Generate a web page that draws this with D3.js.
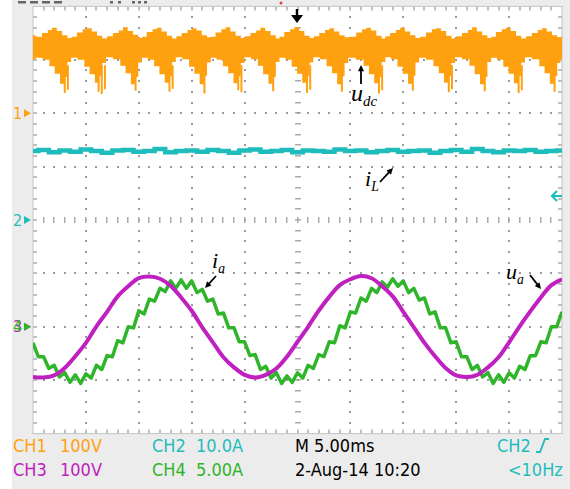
<!DOCTYPE html>
<html>
<head>
<meta charset="utf-8">
<script src="https://cdn.jsdelivr.net/npm/d3@7"></script>
<style>
body { margin: 0; background: #fff; }
svg { display: block; }
.scope { font-family: "Liberation Sans Narrow", "Arial Narrow", "DejaVu Sans Condensed", sans-serif; }
.lab { font-family: "Liberation Serif", "Times New Roman", serif; font-style: italic; fill: #000; }
</style>
</head>
<body>
<div id="chart"></div>
<script>
// udc band edges [ms, V]
var udcTop = [[0,146],[0.5,143],[1.2,150],[1.6,156],[2.0,160],[2.5,154],[3.0,146],[3.5,141],
  [3.8,143],[4.5,151],[4.9,157],[5.3,159],[5.8,153],[6.3,145],[6.8,140],
  [7.2,144],[7.9,150],[8.3,155],[8.7,161],[9.2,154],[9.7,147],[10.2,141],
  [10.4,143],[11.1,152],[11.5,157],[11.9,160],[12.4,153],[12.9,145],[13.4,140],
  [13.7,144],[14.4,150],[14.8,156],[15.2,159],[15.7,155],[16.2,146],[16.7,142],
  [16.9,143],[17.6,151],[18.0,157],[18.4,161],[18.9,153],[19.4,145],[19.9,141],
  [20.2,144],[20.9,150],[21.3,155],[21.7,160],[22.2,154],[22.7,146],[23.2,140],
  [23.4,143],[24.1,152],[24.5,157],[24.9,161],[25.4,154],[25.9,145],[26.4,141],
  [26.7,144],[27.4,150],[27.8,156],[28.2,159],[28.7,153],[29.2,146],[29.7,142],
  [30.2,143],[30.9,151],[31.3,157],[31.7,160],[32.2,155],[32.7,145],[33.2,140],
  [33.4,144],[34.1,150],[34.5,156],[34.9,160],[35.4,153],[35.9,146],[36.4,141],
  [36.8,143],[37.5,151],[37.9,157],[38.3,159],[38.8,154],[39.3,145],[39.8,140],
  [40.2,144],[40.9,150],[41.3,156],[41.7,161],[42.2,153],[42.7,146],[43.2,141],
  [43.4,143],[44.1,152],[44.5,157],[44.9,160],[45.4,154],[45.9,145],[46.4,140],
  [46.8,144],[47.5,150],[47.9,156],[48.3,159],[48.8,153],[49.3,146],[49.8,142],[50,143]];

var udcBottom = [[0,100],[0.5,104],[1.3,100],[1.8,88],[2.3,74],[2.8,55],[3.1,68],[3.4,96],[3.8,104],
  [4.6,100],[5.1,87],[5.6,73],[6.1,57],[6.4,70],[6.7,94],[7.1,105],
  [8.0,101],[8.5,89],[9.0,75],[9.5,54],[9.8,68],[10.1,95],[10.5,104],
  [11.2,100],[11.7,88],[12.2,73],[12.7,57],[13.0,69],[13.3,96],[13.7,105],
  [14.5,101],[15.0,87],[15.5,74],[16.0,54],[16.3,70],[16.6,95],[17.0,104],
  [17.7,100],[18.2,88],[18.7,75],[19.2,56],[19.5,69],[19.8,94],[20.2,105],
  [21.0,101],[21.5,89],[22.0,73],[22.5,55],[22.8,68],[23.1,96],[23.5,104],
  [24.2,100],[24.7,87],[25.2,74],[25.7,57],[26.0,70],[26.3,95],[26.7,105],
  [27.5,101],[28.0,88],[28.5,75],[29.0,54],[29.3,69],[29.6,94],[30.0,104],
  [31.0,100],[31.5,89],[32.0,73],[32.5,56],[32.8,68],[33.1,96],[33.5,105],
  [34.2,101],[34.7,87],[35.2,74],[35.7,55],[36.0,70],[36.3,95],[36.7,104],
  [37.6,100],[38.1,88],[38.6,75],[39.1,57],[39.4,69],[39.7,94],[40.1,105],
  [41.0,101],[41.5,89],[42.0,73],[42.5,54],[42.8,68],[43.1,96],[43.5,104],
  [44.2,100],[44.7,87],[45.2,74],[45.7,56],[46.0,70],[46.3,95],[46.7,105],
  [47.6,101],[48.1,88],[48.6,75],[49.1,55],[49.4,69],[49.7,94],[50,100]];

// thin needles below the band [ms, V]
var udcSpikes = [[3.0,38],[3.3,44],[6.2,40],[6.5,36],[6.8,45],[9.7,42],[12.9,40],[13.2,46],
  [16.2,37],[19.4,43],[19.7,39],[22.7,41],[25.9,38],[26.2,44],[29.2,40],[32.7,37],
  [33.0,43],[35.9,42],[39.3,39],[39.6,45],[42.7,41],[45.9,38],[46.2,43],[49.3,40]];

// iL (A), one sample per ms
var iL = [12.9,13.1,12.7,13.0,12.8,13.2,12.9,12.6,13.0,13.1,12.8,12.9,13.3,12.7,12.9,13.0,12.8,
  13.1,12.9,12.6,13.0,13.2,12.8,12.9,13.1,12.7,13.0,12.9,12.8,13.2,12.9,13.0,12.7,12.9,13.1,
  12.8,12.9,13.0,12.6,12.9,13.1,12.8,13.3,12.9,12.7,13.0,12.9,13.1,12.8,12.9,13.0];

// ua (V), one sample per ms
var ua = [-94,-95,-91,-77,-55,-30,1,28,57,76,91,94,90,77,55,30,-1,-29,-57,-76,-90,-95,-90,
  -78,-56,-28,0,30,56,78,89,95,91,76,57,28,-1,-30,-55,-77,-91,-94,-90,-76,-57,-29,1,29,55,78,89];

// ia (A), one sample per 0.5 ms
var ia = [-1.5,-2.8,-2.8,-3.9,-3.6,-4.7,-4.3,-5.2,-4.5,-5.3,-4.4,-4.8,-3.6,-4.0,-2.7,-2.8,
  -1.3,-1.5,0.0,-0.1,1.5,1.2,2.6,2.4,3.6,3.3,4.3,3.6,4.4,3.6,4.3,3.2,3.5,2.4,2.6,1.2,1.3,-0.1,-0.1,-1.4,
  -1.4,-2.7,-2.6,-4.0,-3.7,-4.8,-4.3,-5.3,-4.6,-5.2,-4.3,-4.8,-3.6,-3.9,-2.6,-2.8,
  -1.4,-1.5,0.1,-0.1,1.4,1.3,2.7,2.4,3.6,3.2,4.2,3.7,4.5,3.8,4.3,3.2,3.6,2.5,2.7,1.2,1.4,-0.1,-0.1,-1.5,
  -1.4,-2.8,-2.8,-4.0,-3.6,-4.7,-4.3,-5.3,-4.5,-5.2,-4.3,-4.8,-3.7,-4.0,-2.7,-2.7,-1.4,-1.5,0.0,0.0,1.4];

var channelNames = ["CH1", "CH2", "CH3", "CH4"];
var channelScales = ["100V", "10.0A", "100V", "5.00A"];
var channelPerDiv = [100, 10, 100, 5];
var channelGround = [2, 0, -2, -2];   // divisions from centre
var channelColors = ["#ffa00f", "#1fbcbc", "#c020c0", "#2fb52a"];
var timebase = "M 5.00ms";
var dateText = "2-Aug-14 10:20";
var trigText = "CH2";
var freqText = "<10Hz";

var width = 570, height = 489;
var svg = d3.select("#chart").append("svg")
  .attr("width", width).attr("height", height);

var x = d3.scaleLinear().domain([0, 50]).range([33, 562]);
var div = d3.scaleLinear().domain([-4, 4]).range([433.6, 6.4]);
function chY(i) {
  return function(v) { return div(channelGround[i] + v / channelPerDiv[i]); };
}

// background
svg.append("rect").attr("x", 12).attr("y", 0).attr("width", width - 12).attr("height", height).attr("fill", "#ececec");
svg.append("rect").attr("x", 33).attr("y", 6.4).attr("width", 529).attr("height", 427.2).attr("fill", "#fff");

// top-left status marks
[[18,8],[30,8],[42,8],[54,8],[110,3],[118,3],[132,3],[138,3],[144,3]].forEach(function(d) {
  svg.append("rect").attr("x", d[0]).attr("y", 1).attr("width", d[1]).attr("height", 2.5).attr("fill", "#666");
});
svg.append("circle").attr("cx", 281).attr("cy", 3).attr("r", 1.5).attr("fill", "#e04040");

// graticule
var grid = svg.append("g");
var xDiv = (562 - 33) / 10, yDiv = (433.6 - 6.4) / 8;
var dotCol = "#999";
for (var k = 1; k < 10; k++) {
  var gx = Math.round(33 + k * xDiv);
  for (var j = 1; j < 40; j++) {
    var gy = Math.round(6.4 + j * yDiv / 5);
    if (k == 5) grid.append("rect").attr("x", gx - 3).attr("y", gy - 1).attr("width", 6).attr("height", 1.5).attr("fill", "#aaa");
    else grid.append("rect").attr("x", gx - 1).attr("y", gy - 1).attr("width", 2).attr("height", 2).attr("fill", dotCol);
  }
}
for (var j2 = 1; j2 < 8; j2++) {
  var hy = Math.round(6.4 + j2 * yDiv);
  for (var k2 = 1; k2 < 50; k2++) {
    var hx = Math.round(33 + k2 * xDiv / 5);
    if (j2 == 4) grid.append("rect").attr("x", hx - 1).attr("y", hy - 3).attr("width", 1.5).attr("height", 6).attr("fill", "#aaa");
    else grid.append("rect").attr("x", hx - 1).attr("y", hy - 1).attr("width", 2).attr("height", 2).attr("fill", dotCol);
  }
}
// border ticks
for (var k3 = 1; k3 < 50; k3++) {
  var bx = Math.round(33 + k3 * xDiv / 5);
  grid.append("rect").attr("x", bx - 0.75).attr("y", 6.4).attr("width", 1.5).attr("height", 4).attr("fill", "#aaa");
  grid.append("rect").attr("x", bx - 0.75).attr("y", 429.6).attr("width", 1.5).attr("height", 4).attr("fill", "#aaa");
}
for (var j3 = 1; j3 < 40; j3++) {
  var by = Math.round(6.4 + j3 * yDiv / 5);
  grid.append("rect").attr("x", 33).attr("y", by - 0.75).attr("width", 4).attr("height", 1.5).attr("fill", "#aaa");
  grid.append("rect").attr("x", 558).attr("y", by - 0.75).attr("width", 4).attr("height", 1.5).attr("fill", "#aaa");
}
grid.append("rect").attr("x", 33).attr("y", 6.4).attr("width", 529).attr("height", 427.2)
  .attr("fill", "none").attr("stroke", "#c4c4c4");

svg.append("clipPath").attr("id", "plot").append("rect")
  .attr("x", 33).attr("y", 6.4).attr("width", 529).attr("height", 427.2);
var traces = svg.append("g").attr("clip-path", "url(#plot)");

// CH1 udc band: upper half from the top edge, lower half from the bottom edge
var y1 = chY(0);
var topArea = d3.area().x(function(d) { return x(d[0]); })
  .y0(y1(120)).y1(function(d) { return y1(d[1]); }).curve(d3.curveStep);
var botArea = d3.area().x(function(d) { return x(d[0]); })
  .y0(function(d) { return y1(d[1]); }).y1(y1(125)).curve(d3.curveStep);
traces.append("path").attr("d", topArea(udcTop)).attr("fill", channelColors[0]);
traces.append("path").attr("d", botArea(udcBottom)).attr("fill", channelColors[0]);
traces.selectAll(".spike").data(udcSpikes).enter().append("line")
  .attr("class", "spike")
  .attr("x1", function(d) { return x(d[0]); }).attr("x2", function(d) { return x(d[0]); })
  .attr("y1", y1(90)).attr("y2", function(d) { return y1(d[1]); })
  .attr("stroke", channelColors[0]).attr("stroke-width", 2);

// CH2 iL
var y2 = chY(1);
traces.append("path")
  .attr("d", d3.line().x(function(d, i) { return x(i); }).y(function(d) { return y2(d); }).curve(d3.curveStep)(iL))
  .attr("fill", "none").attr("stroke", channelColors[1]).attr("stroke-width", 4.5);

// CH4 ia
var y4 = chY(3);
traces.append("path")
  .attr("d", d3.line().x(function(d, i) { return x(i * 0.5); }).y(function(d) { return y4(d); })(ia))
  .attr("fill", "none").attr("stroke", channelColors[3]).attr("stroke-width", 3.5).attr("stroke-linejoin", "round");

// CH3 ua
var y3 = chY(2);
traces.append("path")
  .attr("d", d3.line().x(function(d, i) { return x(i); }).y(function(d) { return y3(d); }).curve(d3.curveCatmullRom)(ua))
  .attr("fill", "none").attr("stroke", channelColors[2]).attr("stroke-width", 4);

// ground markers on the left
var markers = [[0, "1"], [1, "2"], [2, "3"], [3, "4"]];
markers.forEach(function(m) {
  var my = div(channelGround[m[0]]);
  svg.append("text").attr("class", "scope").attr("x", 13).attr("y", my + 5.5)
    .attr("font-size", 16).attr("fill", channelColors[m[0]]).text(m[1]);
  svg.append("path").attr("d", "M24," + (my - 4) + "L31," + my + "L24," + (my + 4) + "Z")
    .attr("fill", channelColors[m[0]]);
});

// trigger position and level
svg.append("path").attr("d", "M297,9V17").attr("stroke", "#000").attr("stroke-width", 2.5);
svg.append("path").attr("d", "M291,15L303,15L297,23Z").attr("fill", "#000");
svg.append("path").attr("d", "M562,196H552M557,191L552,196L557,201")
  .attr("fill", "none").attr("stroke", channelColors[1]).attr("stroke-width", 2.2);

// trace annotations
function arrow(x1, y1_, x2, y2_) {
  var a = Math.atan2(y2_ - y1_, x2 - x1), h = 7;
  svg.append("line").attr("x1", x1).attr("y1", y1_).attr("x2", x2 - Math.cos(a) * 4).attr("y2", y2_ - Math.sin(a) * 4)
    .attr("stroke", "#000").attr("stroke-width", 1.8);
  svg.append("path").attr("d", "M" + x2 + "," + y2_ +
    "L" + (x2 - h * Math.cos(a - 0.45)) + "," + (y2_ - h * Math.sin(a - 0.45)) +
    "L" + (x2 - h * Math.cos(a + 0.45)) + "," + (y2_ - h * Math.sin(a + 0.45)) + "Z").attr("fill", "#000");
}
function label(lx, ly, main, sub, size) {
  var t = svg.append("text").attr("class", "lab").attr("x", lx).attr("y", ly).attr("font-size", size);
  t.append("tspan").text(main);
  t.append("tspan").attr("dy", 5).attr("font-size", size * 0.62).text(sub);
}
arrow(361, 84, 361, 65); label(351, 101, "u", "dc", 24);
arrow(380, 182, 393, 168); label(365, 186, "i", "L", 22);
arrow(216, 276, 205, 288); label(212, 268, "i", "a", 22);
arrow(530, 275, 541, 289); label(506, 279, "u", "a", 22);

// footer readouts
var foot = svg.append("g").attr("class", "scope").attr("font-size", 18);
function ft(fx, fy, s, c) { foot.append("text").attr("x", fx).attr("y", fy).attr("fill", c).text(s); }
ft(13, 452, channelNames[0], channelColors[0]); ft(60, 452, channelScales[0], channelColors[0]);
ft(152, 452, channelNames[1], channelColors[1]); ft(196, 452, channelScales[1], channelColors[1]);
ft(295, 452, timebase, "#000"); ft(497, 452, trigText, channelColors[1]);
ft(13, 476, channelNames[2], channelColors[2]); ft(60, 476, channelScales[2], channelColors[2]);
ft(152, 476, channelNames[3], channelColors[3]); ft(196, 476, channelScales[3], channelColors[3]);
ft(295, 476, dateText, "#000"); ft(508, 476, freqText, channelColors[1]);
svg.append("path").attr("d", "M536,452H540L545,439H549").attr("fill", "none")
  .attr("stroke", channelColors[1]).attr("stroke-width", 1.8);
</script>
</body>
</html>
